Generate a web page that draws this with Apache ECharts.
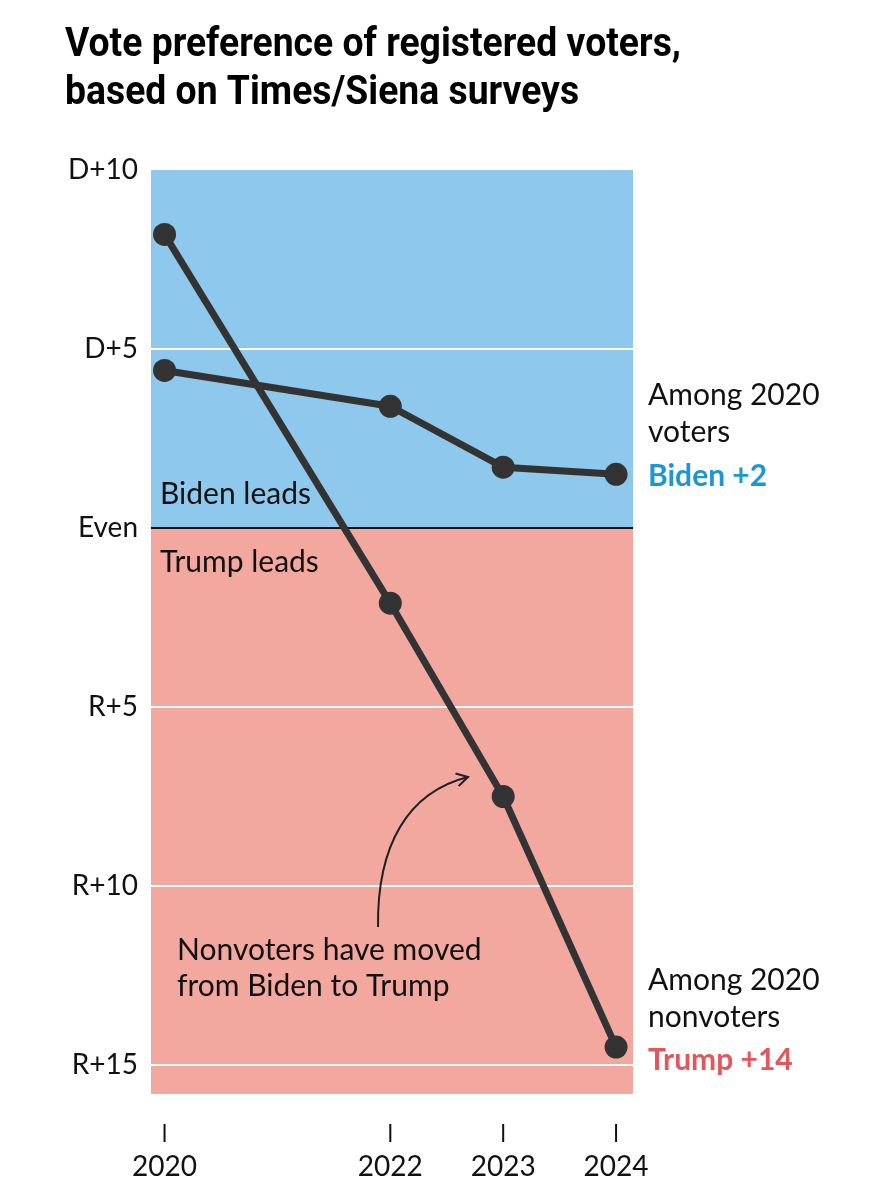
<!DOCTYPE html>
<html>
<head>
<meta charset="utf-8">
<script src="https://cdn.jsdelivr.net/npm/echarts@6/dist/echarts.min.js"></script>
<style>
html,body{margin:0;padding:0;background:#fff;}
#chart{width:887px;height:1200px;}
</style>
</head>
<body>
<div id="chart"></div>
<script>
// ---- data ----
const years = [2020, 2022, 2023, 2024];
const voters = [4.4, 3.4, 1.7, 1.5];        // 2020 voters margin (D positive)
const nonvoters = [8.2, -2.1, -7.5, -14.5]; // 2020 nonvoters margin
const yTicks = [10, 5, 0, -5, -10, -15];
const gridValues = [5, -5, -10, -15];

const FONT = 'Lato, "Open Sans", sans-serif';
const TITLE_FONT = 'Roboto, "Liberation Sans", sans-serif';
const BLUE = '#8EC8EC';
const RED = '#F2A89F';
const LINE = '#333333';

const chart = echarts.init(document.getElementById('chart'), null, {renderer: 'canvas'});

const yLabel = v => v > 0 ? 'D+' + v : (v < 0 ? 'R+' + (-v) : 'Even');

const option = {
  animation: false,
  backgroundColor: '#ffffff',
  grid: {left: 151, top: 170, width: 482, height: 924, containLabel: false},
  xAxis: {
    type: 'value', min: 2019.88, max: 2024.15,
    position: 'bottom', offset: 30,
    axisLine: {show: false},
    splitLine: {show: false},
    axisTick: {show: false},
    axisLabel: {
      customValues: years, margin: 0, color: '#111',
      formatter: v => '{tick|}\n{yr|' + v + '}',
      rich: {
        tick: {width: 2, height: 18, lineHeight: 18, backgroundColor: '#111', align: 'center'},
        yr: {fontSize: 28, fontFamily: FONT, color: '#111', lineHeight: 50, align: 'center'}
      }
    }
  },
  yAxis: {
    type: 'value', min: -15.81, max: 10,
    axisLine: {show: false},
    axisTick: {show: false},
    splitLine: {show: false},
    axisLabel: {customValues: yTicks, margin: 13, fontSize: 28, color: '#111', fontFamily: FONT, formatter: yLabel}
  },
  series: [
    {
      type: 'line', data: [], z: 1, silent: true,
      markArea: {
        silent: true,
        data: [
          [{yAxis: 10, itemStyle: {color: BLUE}}, {yAxis: 0}],
          [{yAxis: 0, itemStyle: {color: RED}}, {yAxis: -15.81}]
        ]
      },
      markLine: {
        silent: true, symbol: 'none', label: {show: false},
        data: gridValues.map(v => ({yAxis: v, lineStyle: {color: '#ffffff', width: 2, type: 'solid'}}))
          .concat([{yAxis: 0, lineStyle: {color: '#111', width: 2, type: 'solid'}}])
      }
    },
    {
      name: '2020 voters', type: 'line', z: 5,
      data: years.map((y, i) => [y, voters[i]]),
      symbol: 'circle', symbolSize: 23,
      lineStyle: {color: LINE, width: 7},
      itemStyle: {color: LINE}
    },
    {
      name: '2020 nonvoters', type: 'line', z: 5,
      data: years.map((y, i) => [y, nonvoters[i]]),
      symbol: 'circle', symbolSize: 23,
      lineStyle: {color: LINE, width: 7},
      itemStyle: {color: LINE}
    }
  ]
};
chart.setOption(option);

// annotations
const txt = (x, y, text, opts) => Object.assign({
  type: 'text', x: x, y: y, z: 20,
  style: Object.assign({text: text, fill: '#111', font: '30px ' + FONT, textVerticalAlign: 'middle'}, opts || {})
});

// title: condensed look via horizontal scale fitted to reference width
const titleFont = 'bold 40px ' + TITLE_FONT;
const mctx = document.createElement('canvas').getContext('2d');
mctx.font = titleFont;
const titleW = mctx.measureText('Vote preference of registered voters,').width;
const titleScale = Math.min(1, 616 / titleW);

// arrow
const p0 = [378, 927], c1 = [377, 845], c2 = [408, 792], p3 = [468, 777];
const ang = Math.atan2(p3[1] - c2[1], p3[0] - c2[0]);
const ah = 13, spread = Math.PI / 6;
const head = [
  [p3[0] - ah * Math.cos(ang - spread), p3[1] - ah * Math.sin(ang - spread)],
  p3,
  [p3[0] - ah * Math.cos(ang + spread), p3[1] - ah * Math.sin(ang + spread)]
];

chart.setOption({
  graphic: [
    {type: 'text', x: 65, y: 22, z: 20, scaleX: titleScale, originX: 0, originY: 0,
     style: {text: 'Vote preference of registered voters,\nbased on Times/Siena surveys',
             font: titleFont, fill: '#000', lineHeight: 48}},
    txt(160, 494, 'Biden leads'),
    txt(160, 562, 'Trump leads'),
    txt(648, 395, 'Among 2020'),
    txt(648, 432, 'voters'),
    txt(648, 476, 'Biden +2', {fill: '#1E96D3', font: 'bold 30px ' + FONT}),
    txt(648, 980, 'Among 2020'),
    txt(648, 1017, 'nonvoters'),
    txt(648, 1060, 'Trump +14', {fill: '#E2575C', font: 'bold 30px ' + FONT}),
    txt(177, 950, 'Nonvoters have moved'),
    txt(177, 986, 'from Biden to Trump'),
    {type: 'bezierCurve', z: 20, silent: true,
     shape: {x1: p0[0], y1: p0[1], cpx1: c1[0], cpy1: c1[1], cpx2: c2[0], cpy2: c2[1], x2: p3[0], y2: p3[1]},
     style: {stroke: '#222', lineWidth: 2, fill: null}},
    {type: 'polyline', z: 20, silent: true,
     shape: {points: head}, style: {stroke: '#222', lineWidth: 2, fill: null}}
  ]
});
</script>
</body>
</html>
